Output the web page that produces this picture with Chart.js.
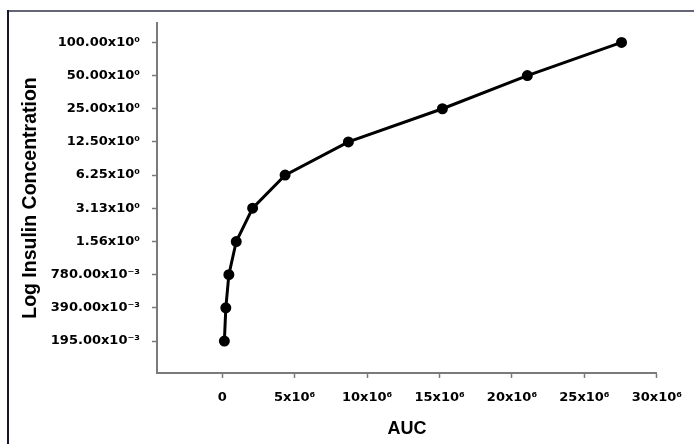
<!DOCTYPE html>
<html>
<head>
<meta charset="utf-8">
<script src="https://cdn.jsdelivr.net/npm/chart.js@4/dist/chart.umd.min.js"></script>
<style>
  html, body { margin: 0; padding: 0; background: #fff; }
  #wrap { width: 694px; height: 444px; position: relative; }
</style>
</head>
<body>
<div id="wrap"><canvas id="c" width="694" height="444"></canvas></div>
<script>
// ---- data ----
const aucValues = [0.15e6, 0.25e6, 0.46e6, 0.97e6, 2.1e6, 4.34e6, 8.71e6, 15.2e6, 21.06e6, 27.56e6];
const insulinConc = [0.195, 0.39, 0.78, 1.56, 3.13, 6.25, 12.5, 25, 50, 100];
const yTickValues = [0.195, 0.39, 0.78, 1.56, 3.13, 6.25, 12.5, 25, 50, 100];
const yTickLabels = ['195.00x10⁻³', '390.00x10⁻³', '780.00x10⁻³', '1.56x10⁰', '3.13x10⁰',
                     '6.25x10⁰', '12.50x10⁰', '25.00x10⁰', '50.00x10⁰', '100.00x10⁰'];
const xTickValues = [0, 5e6, 10e6, 15e6, 20e6, 25e6, 30e6];
const xTickLabels = ['0', '5x10⁶', '10x10⁶', '15x10⁶', '20x10⁶', '25x10⁶', '30x10⁶'];
const xTitle = 'AUC';
const yTitle = 'Log Insulin Concentration';

const points = aucValues.map((x, i) => ({ x: x, y: insulinConc[i] }));

const frame = {
  id: 'frame',
  beforeDraw(chart) {
    const ctx = chart.ctx;
    ctx.save();
    ctx.fillStyle = '#fff';
    ctx.fillRect(0, 0, chart.width, chart.height);
    ctx.lineWidth = 2;
    ctx.strokeStyle = '#65657a';
    ctx.beginPath(); ctx.moveTo(7, 11); ctx.lineTo(694, 11); ctx.stroke();
    ctx.strokeStyle = '#16162a';
    ctx.beginPath(); ctx.moveTo(8, 10); ctx.lineTo(8, 444); ctx.stroke();
    ctx.restore();
  }
};

const axisColor = '#7a7a7a';
const tickFont = { family: '"DejaVu Sans"', size: 13, weight: 'bold' };

new Chart(document.getElementById('c'), {
  type: 'line',
  data: {
    datasets: [{
      data: points,
      borderColor: '#000',
      backgroundColor: '#000',
      borderWidth: 3,
      pointRadius: 4,
      pointHoverRadius: 4,
      pointBackgroundColor: '#000',
      pointBorderColor: '#000',
      tension: 0,
      fill: false
    }]
  },
  options: {
    responsive: false,
    animation: false,
    events: [],
    layout: { padding: { left: 0, top: 23, right: 37, bottom: 0 } },
    plugins: { legend: { display: false }, tooltip: { enabled: false } },
    scales: {
      x: {
        type: 'linear',
        position: 'bottom',
        min: -4.5e6,
        max: 30e6,
        afterBuildTicks(scale) { scale.ticks = xTickValues.map(v => ({ value: v })); },
        afterFit(scale) { scale.height = 71; },
        ticks: {
          autoSkip: false,
          maxRotation: 0,
          padding: 12,
          color: '#000',
          font: tickFont,
          callback: (v, i) => xTickLabels[i]
        },
        grid: { drawOnChartArea: false, drawTicks: true, tickLength: 5, color: axisColor, tickWidth: 1.5 },
        border: { display: true, color: axisColor, width: 2 },
        title: {
          display: true, text: xTitle, color: '#000',
          font: { family: '"Liberation Sans", Arial', size: 18, weight: 'bold' },
          padding: { top: 0, bottom: 4 }
        }
      },
      y: {
        type: 'logarithmic',
        position: 'left',
        min: 0.1,
        max: 150,
        afterBuildTicks(scale) { scale.ticks = yTickValues.map(v => ({ value: v })); },
        afterFit(scale) { scale.width = 157; },
        ticks: {
          autoSkip: false,
          padding: 12,
          color: '#000',
          font: tickFont,
          callback: (v, i) => yTickLabels[i]
        },
        grid: { drawOnChartArea: false, drawTicks: true, tickLength: 5, color: axisColor, tickWidth: 1.5 },
        border: { display: true, color: axisColor, width: 2 },
        title: {
          display: true, text: yTitle, color: '#000',
          font: { family: '"Liberation Sans", Arial', size: 19.5, weight: 'bold' },
          padding: { top: 19, bottom: 0 }
        }
      }
    }
  },
  plugins: [frame]
});
</script>
</body>
</html>
